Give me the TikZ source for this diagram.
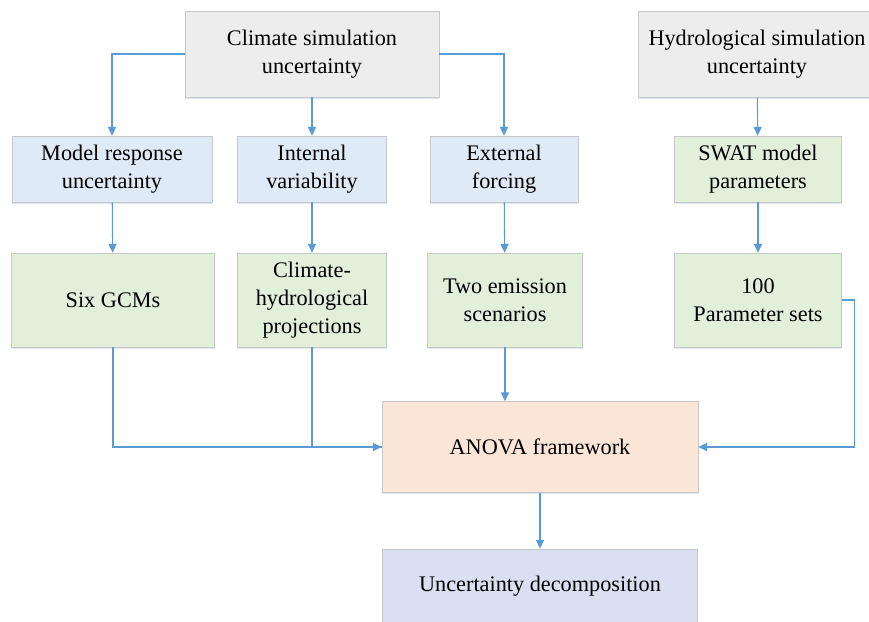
\documentclass[tikz,border=0pt]{standalone}
\usepackage{fontspec}
\setmainfont{Liberation Serif}
\usepackage{tikz}
\usetikzlibrary{positioning}
\usetikzlibrary{calc}
\usetikzlibrary{arrows.meta,shadows}

\definecolor{linegray}{HTML}{C8C8C8}
\definecolor{arrblue}{HTML}{5B9BD5}
\definecolor{shblue}{HTML}{DCE8F5}
\definecolor{fgray}{HTML}{EDEDED}
\definecolor{fblue}{HTML}{DEEAF5}
\definecolor{fgreen}{HTML}{E2EFDA}
\definecolor{fpeach}{HTML}{FBE5D6}
\definecolor{flav}{HTML}{DAE0F2}

\tikzset{
blk/.style={draw=linegray, line width=0.6pt, align=center, inner sep=0pt,
  font=\fontsize{19}{24}\selectfont,
  drop shadow={shadow xshift=0pt, shadow yshift=-1.4pt, fill=shblue, opacity=1}},
arr/.style={draw=arrblue, line width=0.9pt, -{Triangle[length=7.5pt,width=7pt]}},
ln/.style={draw=arrblue, line width=0.9pt}
}

\begin{document}
\begin{tikzpicture}[x=0.03cm,y=-0.03cm]
\clip (0,0) rectangle (869,622);
\useasboundingbox (0,0) rectangle (869,622);

\node[blk, fill=fgray, minimum width=254*0.03cm, minimum height=86*0.03cm](clim) at (312,54){Climate simulation\\uncertainty};
\node[blk, fill=fgray, minimum width=238*0.03cm, minimum height=86*0.03cm](hydro) at (757,54){Hydrological simulation\\uncertainty};

\node[blk, fill=fblue, minimum width=200*0.03cm, minimum height=66*0.03cm](resp) at (112,169){Model response\\uncertainty};
\node[blk, fill=fblue, minimum width=149*0.03cm, minimum height=66*0.03cm](intv) at (312,169){Internal\\variability};
\node[blk, fill=fblue, minimum width=148*0.03cm, minimum height=66*0.03cm](extf) at (504,169){External\\forcing};
\node[blk, fill=fgreen, minimum width=167*0.03cm, minimum height=66*0.03cm](swat) at (758,169){SWAT model\\parameters};

\node[blk, fill=fgreen, minimum width=203*0.03cm, minimum height=94*0.03cm](gcm) at (113,300){Six GCMs};
\node[blk, fill=fgreen, minimum width=149*0.03cm, minimum height=94*0.03cm](proj) at (312,300){Climate-\\hydrological\\projections};
\node[blk, fill=fgreen, minimum width=155*0.03cm, minimum height=94*0.03cm](emis) at (505,300){Two emission\\scenarios};
\node[blk, fill=fgreen, minimum width=167*0.03cm, minimum height=94*0.03cm](psets) at (758,300){100\\Parameter sets};

\node[blk, fill=fpeach, minimum width=316*0.03cm, minimum height=91*0.03cm](anova) at (540,447){ANOVA framework};
\node[blk, fill=flav, minimum width=315*0.03cm, minimum height=74*0.03cm](decomp) at (540,586){Uncertainty decomposition};

\coordinate (pturn) at ($(psets.east)+(13,0)$);

\draw[arr] (clim.west) -| (resp.north);
\draw[arr] (clim.east) -| (extf.north);
\draw[ln] (gcm.south) |- (anova.west);
\draw[arr] (proj.south) |- (anova.west);
\draw[arr] (psets.east) -- (pturn) |- (anova.east);

\path
(clim) edge[arr] (intv)
(hydro) edge[arr] (swat)
(resp) edge[arr] (gcm)
(intv) edge[arr] (proj)
(extf) edge[arr] (emis)
(swat) edge[arr] (psets)
(emis.south) edge[arr] (emis.south |- anova.north)
(anova) edge[arr] (decomp);
\end{tikzpicture}
\end{document}
